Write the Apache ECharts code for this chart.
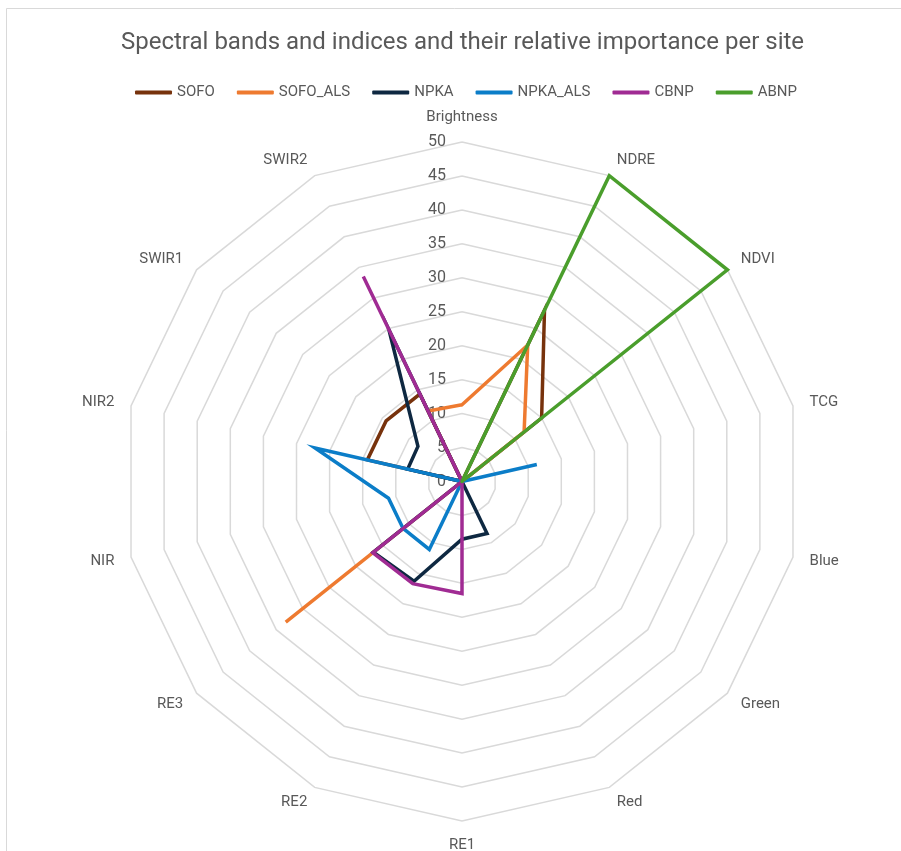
<!DOCTYPE html>
<html>
<head>
<meta charset="utf-8">
<script src="https://cdn.jsdelivr.net/npm/echarts@6/dist/echarts.min.js"></script>
<style>
  html, body { margin: 0; padding: 0; background: #ffffff; }
  #chart { width: 901px; height: 851px; }
</style>
</head>
<body>
<div id="chart"></div>
<script>
// Radar categories, listed clockwise starting at the top
const categories = ['Brightness', 'NDRE', 'NDVI', 'TCG', 'Blue', 'Green', 'Red',
                    'RE1', 'RE2', 'RE3', 'NIR', 'NIR2', 'SWIR1', 'SWIR2'];

// Relative importance per site (same order as categories)
const sofo    = [0, 28, 15, 0, 0, 0, 0, 0, 0, 0, 0, 14.3, 14.3, 14.3];
const sofoAls = [11.3, 22.3, 11.7, 0, 0, 0, 0, 0, 0, 33.2, 0, 0, 0, 11.5];
const npka    = [0, 0, 0, 0, 0, 0, 8.5, 8.5, 16.3, 16.7, 0, 8.2, 8.3, 24.8];
const npkaAls = [0, 0, 0, 11.3, 0, 0, 0, 0, 11.1, 11.1, 11.1, 22.2, 0, 0];
const cbnp    = [0, 0, 0, 0, 0, 0, 0, 16.5, 16.7, 16.8, 0, 0, 0, 33.5];
const abnp    = [0, 50, 50, 0, 0, 0, 0, 0, 0, 0, 0, 0, 0, 0];

const siteNames  = ['SOFO', 'SOFO_ALS', 'NPKA', 'NPKA_ALS', 'CBNP', 'ABNP'];
const siteValues = [sofo, sofoAls, npka, npkaAls, cbnp, abnp];
const siteColors = ['#77320C', '#EE7A30', '#0E2841', '#0B7DC8', '#A02B93', '#4A9E2C'];

// Value axis: 0 to 50 in steps of 5
const axisMin = 0;
const axisMax = 50;
const axisStep = 5;

// ECharts lays indicators out counter-clockwise; reorder so they run clockwise.
const order = [0].concat(categories.map((_, i) => i).slice(1).reverse());

const gray = '#595959';
const gridGray = '#D9D9D9';
const fontFamily = 'Roboto, "Open Sans", sans-serif';

const indicator = order.map((idx, k) => {
  const ind = { name: categories[idx], min: axisMin, max: axisMax };
  if (k === 0) {
    ind.axisLabel = { show: true };
  }
  return ind;
});

const series = siteNames.map((name, s) => ({
  name: name,
  type: 'radar',
  symbol: 'none',
  silent: true,
  z: 2 + s,
  lineStyle: { color: siteColors[s], width: 3.5, join: 'miter', cap: 'round' },
  itemStyle: { color: siteColors[s] },
  data: [{ name: name, value: order.map(idx => siteValues[s][idx]) }]
}));

const chart = echarts.init(document.getElementById('chart'), null, { renderer: 'canvas' });
chart.setOption({
  animation: false,
  backgroundColor: '#ffffff',
  graphic: [{
    type: 'rect',
    shape: { x: 6.5, y: 8.5, width: 1000, height: 1000 },
    style: { fill: 'none', stroke: gridGray, lineWidth: 1 },
    silent: true
  }],
  title: {
    text: 'Spectral bands and indices and their relative importance per site',
    left: 116,
    top: 26,
    textStyle: { color: gray, fontSize: 24, fontWeight: 'normal', fontFamily: fontFamily }
  },
  legend: {
    data: siteNames,
    top: 80,
    left: 130,
    icon: 'roundRect',
    itemWidth: 37,
    itemHeight: 4,
    itemGap: 22,
    textStyle: { color: gray, fontSize: 15, fontFamily: fontFamily }
  },
  radar: {
    center: [462, 481.5],
    radius: 339.5,
    startAngle: 90,
    splitNumber: (axisMax - axisMin) / axisStep,
    shape: 'polygon',
    nameGap: 17,
    axisName: { color: gray, fontSize: 15, fontFamily: fontFamily },
    axisLine: { show: false },
    axisTick: { show: false },
    axisLabel: {
      show: false, color: gray, fontSize: 16, fontFamily: fontFamily, margin: 16
    },
    splitLine: { lineStyle: { color: gridGray, width: 1.5 } },
    splitArea: { show: false },
    indicator: indicator
  },
  series: series
});
</script>
</body>
</html>
